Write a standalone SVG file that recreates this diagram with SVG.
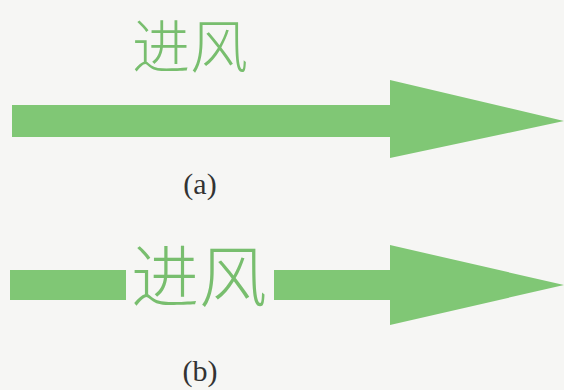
<svg xmlns="http://www.w3.org/2000/svg" width="564" height="390" viewBox="0 0 564 390">
<style>
.arrow{fill:#80c775}
.cn{font-family:"Noto Sans CJK SC","Noto Sans",sans-serif;font-weight:300;fill:#78be6e}
.cap{font-family:"Liberation Serif",serif;font-size:30px;fill:#333;text-anchor:middle}
</style>
<rect width="564" height="390" fill="#f6f6f4"/>
<g id="a">
<text class="cn" x="132" y="68" font-size="58">进风</text>
<polygon class="arrow" points="12,105 390,105 390,80 564,121 390,158 390,137 12,137"/>
<text class="cap" x="200" y="194">(a)</text>
</g>
<g id="b">
<rect class="arrow" x="10" y="270" width="116" height="30"/>
<text class="cn" x="131" y="302" font-size="68">进风</text>
<polygon class="arrow" points="274,270 390,270 390,245 564,285 390,325 390,300 274,300"/>
<text class="cap" x="200" y="381">(b)</text>
</g>
</svg>
